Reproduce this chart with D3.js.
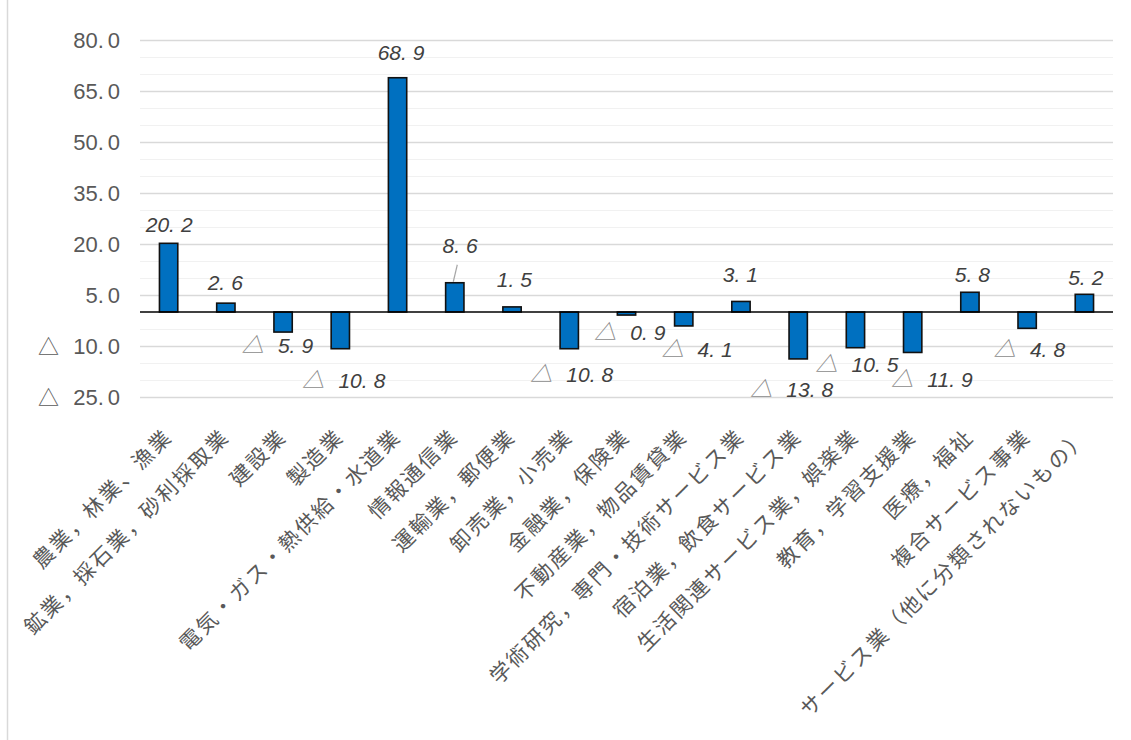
<!DOCTYPE html>
<html lang="ja">
<head>
<meta charset="utf-8">
<script src="https://cdn.jsdelivr.net/npm/d3@7"></script>
<style>
  html, body { margin: 0; padding: 0; background: #ffffff; }
  svg { display: block; }
</style>
</head>
<body>
<svg id="chart" width="1131" height="740"></svg>
<script>
// 産業別の増減率（%）— 負の値は「△」で表示
const categories = [
  "農業，林業、漁業",
  "鉱業，採石業，砂利採取業",
  "建設業",
  "製造業",
  "電気・ガス・熱供給・水道業",
  "情報通信業",
  "運輸業，郵便業",
  "卸売業，小売業",
  "金融業，保険業",
  "不動産業，物品賃貸業",
  "学術研究，専門・技術サービス業",
  "宿泊業，飲食サービス業",
  "生活関連サービス業，娯楽業",
  "教育，学習支援業",
  "医療，福祉",
  "複合サービス事業",
  "サービス業（他に分類されないもの）"
];
const values = [20.2, 2.6, -5.9, -10.8, 68.9, 8.6, 1.5, -10.8, -0.9, -4.1, 3.1, -13.8, -10.5, -11.9, 5.8, -4.8, 5.2];

// 目盛り
const majorTicks = [80, 65, 50, 35, 20, 5, -10, -25];
const minorTicks = [75, 70, 60, 55, 45, 40, 30, 25, 15, 10, -5, -15, -20];

// データラベルの手動配置（棒の中心・棒の端からのずれ：数値の右端, ベースライン）
const labelShift = [
  [24, -11], [17, -13], [30, 21], [45, 39], [27, -18], [23, -30], [20, -20], [44, 33],
  [39, 25], [49, 31], [17, -19], [35, 38], [43, 24], [60, 35], [20, -10], [38, 29], [19, -9]
];
// 引き出し線を付けるラベル
const leaderIndex = [5];

const svg = d3.select("#chart");
const plot = { left: 140, right: 1113, top: 40, bottom: 397 };

const x = d3.scaleBand()
  .domain(categories)
  .range([plot.left, plot.right])
  .padding(0);

const y = d3.scaleLinear()
  .domain([-25, 80])
  .range([plot.bottom, plot.top]);

const barW = x.bandwidth() * 0.32;
const numFont = "'Liberation Sans', Arial, sans-serif";
const jpFont = "'Noto Sans CJK JP', 'Noto Sans CJK SC', sans-serif";

// 数値を「整数部.」と「小数部」に分け、小数点の後ろに間隔をあけて書く
function writeNumber(sel, gap) {
  sel.each(function (d) {
    const s = Math.abs(d).toFixed(1).split(".");
    const t = d3.select(this);
    t.append("tspan").text(s[0] + ".");
    t.append("tspan").attr("dx", gap).text(s[1]);
  });
}

// グラフエリアの左枠
svg.append("line")
  .attr("x1", 7.5).attr("x2", 7.5)
  .attr("y1", 0).attr("y2", 740)
  .attr("stroke", "#d9d9d9").attr("stroke-width", 1.5);

// 補助目盛線
svg.append("g")
  .attr("transform", `translate(${plot.left},0)`)
  .call(d3.axisLeft(y).tickValues(minorTicks).tickSize(-(plot.right - plot.left)).tickFormat(""))
  .call(g => g.select(".domain").remove())
  .call(g => g.selectAll("line").attr("stroke", "#f1f1f1").attr("stroke-width", 1.2));

// 主目盛線
svg.append("g")
  .attr("transform", `translate(${plot.left},0)`)
  .call(d3.axisLeft(y).tickValues(majorTicks).tickSize(-(plot.right - plot.left)).tickFormat(""))
  .call(g => g.select(".domain").remove())
  .call(g => g.selectAll("line").attr("stroke", "#d9d9d9").attr("stroke-width", 1.5));

// 縦軸ラベル
const yLab = svg.append("g").selectAll("g.ylab")
  .data(majorTicks)
  .join("g")
  .attr("class", "ylab")
  .attr("transform", d => `translate(120,${y(d) + 8})`);

yLab.append("text")
  .attr("text-anchor", "end")
  .attr("font-family", numFont)
  .attr("font-size", 22)
  .attr("fill", "#595959")
  .call(writeNumber, 4);

yLab.filter(d => d < 0).append("text")
  .attr("x", -61)
  .attr("text-anchor", "end")
  .attr("font-family", jpFont)
  .attr("font-size", 21)
  .attr("fill", "#595959")
  .text("△");

// 棒
const cx = i => x(categories[i]) + x.bandwidth() / 2;
svg.append("g").selectAll("rect")
  .data(values)
  .join("rect")
  .attr("x", (d, i) => cx(i) - barW / 2)
  .attr("y", d => y(Math.max(0, d)))
  .attr("width", barW)
  .attr("height", d => Math.abs(y(d) - y(0)))
  .attr("fill", "#0070c0")
  .attr("stroke", "#111111")
  .attr("stroke-width", 1.6);

// 0 の基準線
svg.append("line")
  .attr("x1", plot.left).attr("x2", plot.right)
  .attr("y1", y(0)).attr("y2", y(0))
  .attr("stroke", "#000000").attr("stroke-width", 1.5);

// 引き出し線
leaderIndex.forEach(i => {
  svg.append("line")
    .attr("x1", cx(i) - 1.5).attr("y1", y(values[i]) - 1)
    .attr("x2", cx(i) + 2.5).attr("y2", y(values[i]) - 18)
    .attr("stroke", "#a6a6a6").attr("stroke-width", 1.2);
});

// データラベル
const dLab = svg.append("g").selectAll("g.dlab")
  .data(values)
  .join("g")
  .attr("class", "dlab")
  .attr("transform", (d, i) => `translate(${cx(i) + labelShift[i][0]},${y(d) + labelShift[i][1]})`);

dLab.append("text")
  .attr("class", "num")
  .attr("text-anchor", "end")
  .attr("font-family", numFont)
  .attr("font-style", "italic")
  .attr("font-size", 21)
  .attr("fill", "#404040")
  .call(writeNumber, 6);

dLab.filter(d => d < 0).each(function () {
  const g = d3.select(this);
  const w = g.select("text.num").node().getBBox().width;
  g.append("text")
    .attr("x", -w - 14)
    .attr("text-anchor", "end")
    .attr("font-family", jpFont)
    .attr("font-style", "italic")
    .attr("font-size", 22)
    .attr("fill", "#8c8c8c")
    .text("△");
});

// 横軸ラベル（45度回転）
svg.append("g").selectAll("text.xlab")
  .data(categories)
  .join("text")
  .attr("class", "xlab")
  .attr("transform", (d, i) => `translate(${cx(i) + 5},${438}) rotate(-45)`)
  .attr("text-anchor", "end")
  .attr("font-family", jpFont)
  .attr("font-size", 21)
  .attr("letter-spacing", 2.3)
  .attr("fill", "#595959")
  .text(d => d);
</script>
</body>
</html>
